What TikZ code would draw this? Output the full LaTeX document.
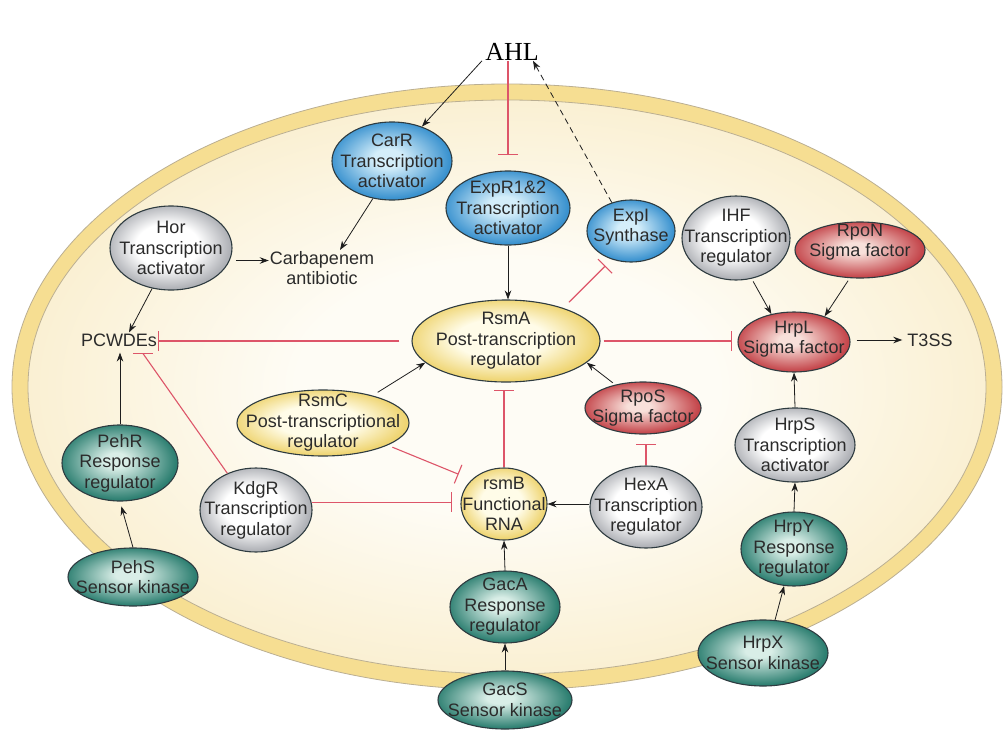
\documentclass[tikz,border=0pt]{standalone}
\usepackage{fontspec}
\setmainfont{Liberation Sans}
\newfontfamily\serifahl{Liberation Serif}
\usetikzlibrary{shapes.geometric,arrows.meta,calc}
\definecolor{band}{HTML}{F6DE92}
\definecolor{bandline}{HTML}{BBAF92}
\definecolor{cellin}{HTML}{FEFCF5}
\definecolor{cellout}{HTML}{FAF0D3}
\definecolor{bluein}{HTML}{D4EEFA}
\definecolor{blueout}{HTML}{3A92CF}
\definecolor{redin}{HTML}{F8E0DA}
\definecolor{redout}{HTML}{C4464B}
\definecolor{greenin}{HTML}{D9EEE7}
\definecolor{greenout}{HTML}{2D7F71}
\definecolor{whitein}{HTML}{FFFFFF}
\definecolor{whiteout}{HTML}{B0B2B7}
\definecolor{yelin}{HTML}{FFFCE8}
\definecolor{yelout}{HTML}{EFD573}
\definecolor{nodeline}{HTML}{2E3B40}
\definecolor{txt}{HTML}{2B2B2B}
\definecolor{inhred}{HTML}{DD5569}
\definecolor{actblack}{HTML}{1E1E1E}
\pgfdeclareradialshading{shblue}{\pgfpoint{-2bp}{2bp}}{color(0bp)=(bluein); color(6bp)=(bluein); color(25bp)=(blueout); color(50bp)=(blueout)}
\pgfdeclareradialshading{shred}{\pgfpoint{-2bp}{2bp}}{color(0bp)=(redin); color(5bp)=(redin); color(25bp)=(redout); color(50bp)=(redout)}
\pgfdeclareradialshading{shgreen}{\pgfpoint{-2bp}{2bp}}{color(0bp)=(greenin); color(5bp)=(greenin); color(25bp)=(greenout); color(50bp)=(greenout)}
\pgfdeclareradialshading{shwhite}{\pgfpoint{-2bp}{2bp}}{color(0bp)=(whitein); color(13bp)=(whitein); color(25bp)=(whiteout); color(50bp)=(whiteout)}
\pgfdeclareradialshading{shyel}{\pgfpoint{-2bp}{2bp}}{color(0bp)=(yelin); color(12bp)=(yelin); color(25bp)=(yelout); color(50bp)=(yelout)}
\pgfdeclareradialshading{shcell}{\pgfpoint{0bp}{0bp}}{color(0bp)=(cellin); color(11bp)=(cellin); color(25bp)=(cellout); color(50bp)=(cellout)}
\begin{document}
\begin{tikzpicture}[x=1pt,y=-1pt,
  bub/.style={ellipse, draw=nodeline, line width=1.1pt, inner sep=0pt, shade},
  bluen/.style={bub, shading=shblue},
  redn/.style={bub, shading=shred},
  greenn/.style={bub, shading=shgreen},
  whiten/.style={bub, shading=shwhite},
  yeln/.style={bub, shading=shyel},
  lab/.style={font=\fontsize{18}{20.5}\selectfont, align=center, text=txt, inner sep=0pt},
  plain/.style={font=\fontsize{18}{20.5}\selectfont, align=center, text=txt, inner sep=1pt},
  act/.style={draw=actblack, line width=0.8pt, -{Stealth[length=9pt,width=6.5pt]}},
  inh/.style={draw=inhred, line width=1.1pt, -{Bar[width=20pt]}},
  inhline/.style={draw=inhred, line width=1.1pt}]
\useasboundingbox (0,0) rectangle (1005,731);
\fill[white] (0,0) rectangle (1005,731);
% cell
\filldraw[fill=band, draw=bandline, line width=0.8pt] (507,387) ellipse [x radius=495, y radius=303];
\shade[shading=shcell] (507,387) ellipse [x radius=479, y radius=287];
\draw[bandline, line width=0.8pt] (507,387) ellipse [x radius=479, y radius=287];

% text nodes
\node[font=\serifahl\fontsize{26}{28}\selectfont, inner sep=0pt] (ahl) at (512,52) {AHL};
\node[plain] (carb) at (322,268) {Carbapenem\\antibiotic};
\node[plain] (pcw) at (119,340) {PCWDEs};
\node[plain] (t3ss) at (930,340) {T3SS};

% bubbles
\node[bluen, minimum width=120, minimum height=78, label={[lab]center:CarR\\Transcription\\activator}] (carR) at (392,161) {};
\node[bluen, minimum width=124, minimum height=74, label={[lab]center:ExpR1\&2\\Transcription\\activator}] (expR) at (508,208) {};
\node[bluen, minimum width=88, minimum height=62, label={[lab,yshift=4pt]center:ExpI\\Synthase}] (expI) at (631,231) {};
\node[whiten, minimum width=108, minimum height=84, label={[lab]center:IHF\\Transcription\\regulator}] (ihf) at (736,238) {};
\node[redn, minimum width=130, minimum height=56, label={[lab,yshift=8pt]center:RpoN\\Sigma factor}] (rpoN) at (860,250) {};
\node[redn, minimum width=112, minimum height=60, label={[lab,yshift=3pt]center:HrpL\\Sigma factor}] (hrpL) at (794,342) {};
\node[whiten, minimum width=122, minimum height=84, label={[lab]center:Hor\\Transcription\\activator}] (hor) at (171,248) {};
\node[yeln, minimum width=188, minimum height=82, label={[lab]center:RsmA\\Post-transcription\\regulator}] (rsmA) at (506,341) {};
\node[yeln, minimum width=172, minimum height=66, label={[lab]center:RsmC\\Post-transcriptional\\regulator}] (rsmC) at (323,423) {};
\node[redn, minimum width=116, minimum height=52, label={[lab]center:RpoS\\Sigma factor}] (rpoS) at (643,408) {};
\node[whiten, minimum width=112, minimum height=84, label={[lab]center:KdgR\\Transcription\\regulator}] (kdgR) at (256,510) {};
\node[yeln, minimum width=86, minimum height=72, label={[lab]center:rsmB\\Functional\\RNA}] (rsmB) at (504,504) {};
\node[whiten, minimum width=112, minimum height=82, label={[lab]center:HexA\\Transcription\\regulator}] (hexA) at (646,507) {};
\node[greenn, minimum width=116, minimum height=76, label={[lab]center:PehR\\Response\\regulator}] (pehR) at (120,463) {};
\node[greenn, minimum width=130, minimum height=58, label={[lab]center:PehS\\Sensor kinase}] (pehS) at (133,577) {};
\node[greenn, minimum width=110, minimum height=72, label={[lab]center:GacA\\Response\\regulator}] (gacA) at (505,607) {};
\node[greenn, minimum width=134, minimum height=58, label={[lab]center:GacS\\Sensor kinase}] (gacS) at (505,700) {};
\node[whiten, minimum width=120, minimum height=74, label={[lab]center:HrpS\\Transcription\\activator}] (hrpS) at (795,445) {};
\node[greenn, minimum width=106, minimum height=74, label={[lab]center:HrpY\\Response\\regulator}] (hrpY) at (794,549) {};
\node[greenn, minimum width=130, minimum height=66, label={[lab]center:HrpX\\Sensor kinase}] (hrpX) at (763,653) {};

% connectors
\draw[act] ([xshift=-30pt]ahl.south) -- (carR.49);
\draw[inh, shorten >=15pt] (ahl.south -| expR.north) -- (expR.north);
\draw[act, dash pattern=on 6pt off 4pt] (expI.124) -- ([xshift=21pt]ahl.south);
\draw[act] (carR.243) -- ([xshift=18pt]carb.north);
\draw[act, shorten <=6pt] (hor.-12) -- (hor.-12 -| carb.west);
\draw[act] (hor.245) -- ([xshift=10pt]pcw.north);
\draw[act, shorten >=5pt] (pehR.north) -- (pehR.north |- pcw.south);
\draw[act, shorten >=5pt] (pehS.north) -- (pehR.south);
\draw[inh, shorten <=12pt] (rsmA.west) -- (rsmA.west -| pcw.east);
\coordinate (kb) at ([xshift=24pt,yshift=-6pt]pcw.south);
\draw[inhline] (kdgR.128) -- (kb);
\draw[inhline] ([xshift=-10pt]kb) -- ([xshift=10pt]kb);
\draw[inh, shorten >=8pt] (kdgR.8) -- (kdgR.8 -| rsmB.west);
\draw[act, shorten <=6pt] (rsmC.29) -- (rsmA.195);
\draw[inh, shorten <=5pt, shorten >=14pt] (rsmC.-19) -- (rsmB.143);
\draw[act] (expR.south) -- (expR.south |- rsmA.north);
\draw[inh, shorten <=8pt, shorten >=9pt] (rsmA.30) -- (expI.236);
\draw[inh, shorten <=3pt, shorten >=5pt] (rsmA.east) -- (rsmA.east -| hrpL.west);
\draw[inh, shorten >=7pt] (rsmB.north) -- (rsmB.north |- rsmA.south);
\draw[act, shorten <=3pt] (rpoS.140) -- (rsmA.-15);
\draw[inh, shorten >=9pt] (hexA.north) -- (hexA.north |- rpoS.south);
\draw[act] (rsmB.east -| hexA.west) -- (rsmB.east);
\draw[act] (gacA.north) -- (rsmB.south);
\draw[act] (gacS.north) -- (gacA.south);
\draw[act, shorten <=3pt] (ihf.-69) -- (hrpL.129);
\draw[act, shorten <=3pt] (rpoN.250) -- (hrpL.40);
\draw[act, shorten <=6pt, shorten >=4pt] (t3ss.west -| hrpL.east) -- (t3ss.west);
\draw[act] (hrpS.north) -- (hrpL.south);
\draw[act] (hrpY.north) -- (hrpS.south);
\draw[act] (hrpX.70) -- (hrpY.255);
\end{tikzpicture}
\end{document}
